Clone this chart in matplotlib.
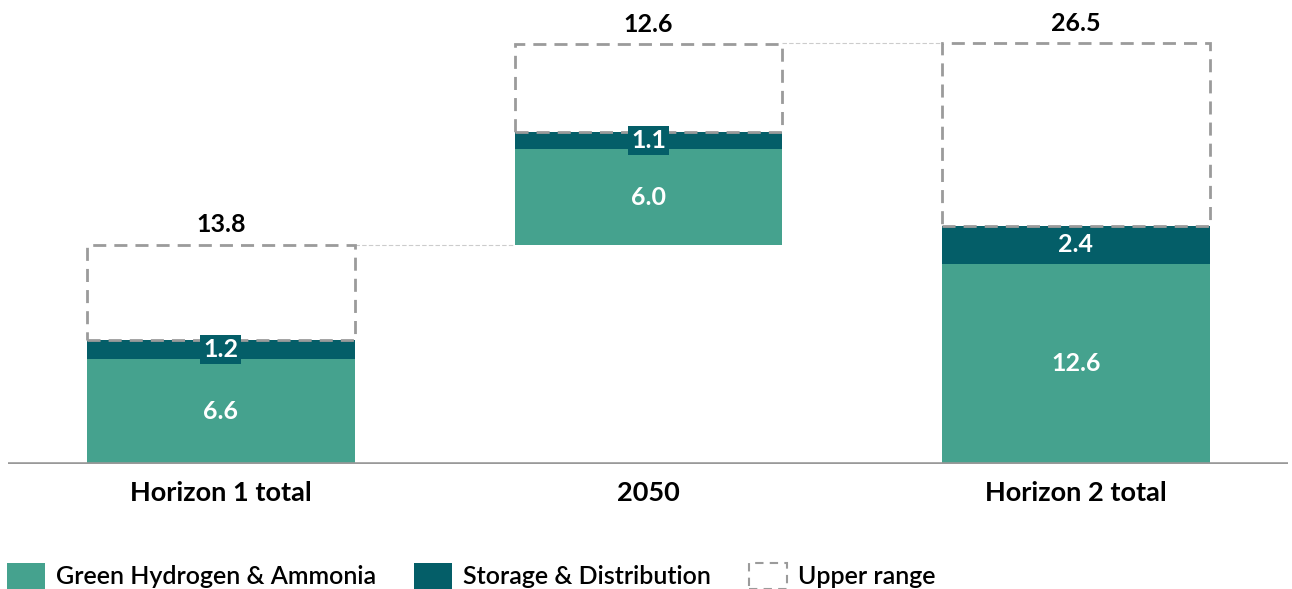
import matplotlib.pyplot as plt
from matplotlib.patches import Patch

plt.rcParams['font.family'] = ['Lato', 'DejaVu Sans']

categories = ['Horizon 1 total', '2050', 'Horizon 2 total']
green_h2 = [6.6, 6.0, 12.6]
storage = [1.2, 1.1, 2.4]
upper_total = [13.8, 12.6, 26.5]   # label shown above each box
bases = [0.0, 13.8, 0.0]           # 2050 floats on top of horizon 1

GREEN = '#45A28E'
TEAL = '#045E68'
GREY = '#9B9B9B'

fig = plt.figure(figsize=(12.92, 5.89), dpi=100)
ax = fig.add_axes([8 / 1292, 125 / 589, 1280 / 1292, 464 / 589])

x = list(range(len(categories)))
w = 0.625

for i in x:
    b = bases[i]
    g = green_h2[i]
    s = storage[i]
    top = b + upper_total[i]
    ax.bar(i, g, w, bottom=b, color=GREEN, zorder=2)
    ax.bar(i, s, w, bottom=b + g, color=TEAL, zorder=2)
    ax.bar(i, top - (b + g + s), w, bottom=b + g + s, facecolor='none',
           edgecolor=GREY, lw=2, linestyle=(0, (4.7, 2.9)), zorder=3)
    ax.text(i, b + g / 2, f'{g:.1f}', ha='center', va='center', color='white',
            fontsize=18, fontweight='bold', zorder=5)
    ax.text(i, b + g + s / 2, f'{s:.1f}', ha='center', va='center', color='white',
            fontsize=18, fontweight='bold', zorder=5,
            bbox=dict(boxstyle='square,pad=0.12', fc=TEAL, ec='none'))
    ax.annotate(f'{upper_total[i]:.1f}', (i, top), xytext=(0, 6),
                textcoords='offset points', ha='center', va='bottom',
                fontsize=18, fontweight='bold', color='black')

# connector lines between boxes
for i in range(len(x) - 1):
    level = bases[i] + upper_total[i]
    if i == 1:
        level = upper_total[2]
    ax.plot([i + w / 2, i + 1 - w / 2], [level, level], color='#CCCCCC',
            lw=0.8, linestyle=(0, (4, 2)), zorder=1)

ax.set_xlim(-0.498, 2.496)
ax.set_ylim(0, 29.2)
ax.axhline(0, color='#999999', lw=2.6, zorder=4)
for sp in ax.spines.values():
    sp.set_visible(False)
ax.set_yticks([])
ax.set_xticks(x)
ax.set_xticklabels(categories, fontsize=19.5, fontweight='bold')
ax.tick_params(axis='x', length=0, pad=12)

handles = [
    Patch(facecolor=GREEN, label='Green Hydrogen & Ammonia'),
    Patch(facecolor=TEAL, label='Storage & Distribution'),
    Patch(facecolor='white', edgecolor=GREY, lw=1.5, linestyle=(0, (4, 3)),
          label='Upper range'),
]
fig.legend(handles=handles, loc='lower left', bbox_to_anchor=(7 / 1292, 0),
           ncol=3, frameon=False, handlelength=1.52,
           handleheight=1.25, handletextpad=0.45, columnspacing=1.5,
           borderpad=0, borderaxespad=0.0,
           prop={'size': 18, 'weight': 'semibold'})

plt.savefig('out.png', dpi=100)
